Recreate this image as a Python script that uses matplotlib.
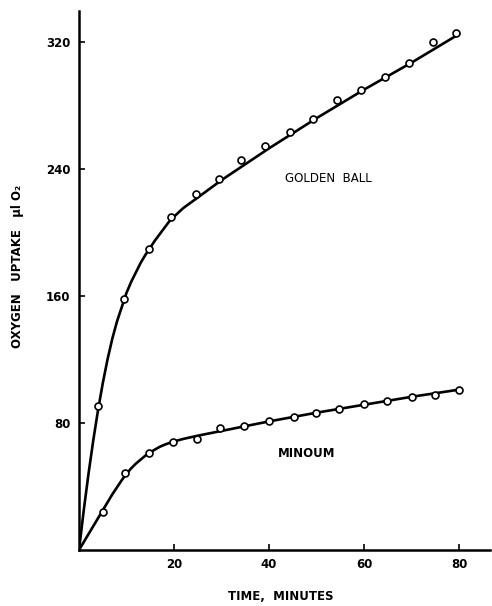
import numpy as np
import matplotlib
matplotlib.use("Agg")
import matplotlib.pyplot as plt

# measured points (time in minutes, oxygen uptake in ul O2)
gb_t = [4, 9.5, 14.7, 19.4, 24.6, 29.5, 34.2, 39.2, 44.4, 49.2, 54.3, 59.4, 64.4, 69.5, 74.4, 79.4]
gb_y = [90.7, 158, 189.6, 209.6, 224, 233.7, 245.9, 254.5, 263.5, 271.7, 283.5, 289.8, 297.8, 307, 319.8, 325.5]

mi_t = [5, 9.7, 14.7, 19.7, 24.8, 29.7, 34.7, 39.9, 45.3, 49.9, 54.7, 59.9, 64.9, 70, 74.9, 79.9]
mi_y = [24.1, 48.3, 60.9, 67.8, 69.9, 76.6, 78.3, 81.5, 83.6, 86.5, 89, 91.8, 94, 96.6, 97.6, 100.8]

# hand drawn curves
gb_curve_t = [0, 1, 2, 3, 4, 5, 6, 7, 8, 9, 10, 11, 12, 13, 14, 15, 16, 17, 18, 19, 20,
              22, 25, 30, 40, 50, 60, 70, 80]
gb_curve_y = [0, 25, 48, 69, 88, 105, 120, 133, 144, 153, 162, 169, 175, 181, 186, 190.5,
              195, 199, 203, 207, 210, 215.5, 222, 233, 253, 272, 290, 307, 325]

mi_curve_t = [0, 2, 4, 6, 7, 8, 9, 10, 11, 12, 13, 14, 15, 16, 17, 18, 19, 20,
              22, 25, 30, 40, 50, 60, 70, 80]
mi_curve_y = [0, 10, 20, 30, 35, 39.5, 44, 48, 51.5, 54.5, 57, 59.5, 61.5, 63.3, 65,
              66.3, 67.4, 68.4, 70, 72, 75, 81, 86.5, 91.5, 96.5, 101]

fig = plt.figure(figsize=(4.92, 6.06), dpi=100)
ax = fig.add_axes([79/492, 56/606, 411/492, 539/606])

ax.plot(gb_curve_t, gb_curve_y, color='black', lw=1.9, solid_capstyle='round', solid_joinstyle='round')
ax.plot(mi_curve_t, mi_curve_y, color='black', lw=1.9, solid_capstyle='round', solid_joinstyle='round')
ax.plot(gb_t, gb_y, 'o', ms=5, mfc='white', mec='black', mew=1.2)
ax.plot(mi_t, mi_y, 'o', ms=5, mfc='white', mec='black', mew=1.2)

ax.text(52.4, 234, "GOLDEN  BALL", ha='center', va='center', fontsize=8.5, fontweight='medium')
ax.text(47.9, 61, "MINOUM", ha='center', va='center', fontsize=8.5, fontweight='bold')

ax.set_xlim(0, 86.5)
ax.set_ylim(0, 339.5)
ax.set_xticks([20, 40, 60, 80])
ax.set_yticks([80, 160, 240, 320])
ax.tick_params(direction='in', length=4, width=1.2, labelsize=8.5, pad=6)
for lab in ax.get_xticklabels() + ax.get_yticklabels():
    lab.set_fontweight('bold')

for s in ['top', 'right']:
    ax.spines[s].set_visible(False)
for s in ['left', 'bottom']:
    ax.spines[s].set_linewidth(1.8)

fig.text(281/492, 1 - 597/606, "TIME,  MINUTES", ha='center', va='center',
         fontsize=8.5, fontweight='bold')
fig.text(18/492, 1 - 266/606, "OXYGEN   UPTAKE   \u03bcl O\u2082", ha='center', va='center',
         rotation=90, fontsize=8.5, fontweight='bold')

fig.savefig("out.png", dpi=100)
